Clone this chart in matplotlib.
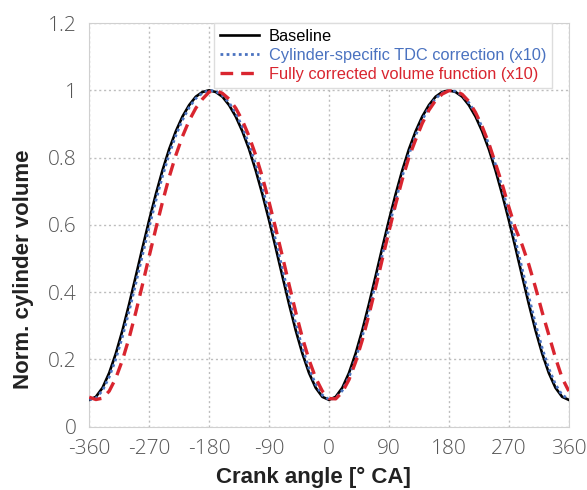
import numpy as np
import matplotlib.pyplot as plt
from matplotlib.ticker import FuncFormatter

plt.rcParams['font.family'] = ['Liberation Sans', 'DejaVu Sans']
plt.rcParams['axes.unicode_minus'] = False

# crank angle grid [deg CA], -360 ... 360 in 10 deg steps
angle = list(range(-360, 361, 10))

baseline = [0.080, 0.089, 0.116, 0.160, 0.218, 0.287, 0.365, 0.448, 0.532, 0.614,
            0.691, 0.762, 0.825, 0.878, 0.922, 0.956, 0.981, 0.995, 1.000,
            0.995, 0.981, 0.956, 0.922, 0.878, 0.825, 0.762, 0.691, 0.614,
            0.532, 0.448, 0.365, 0.287, 0.218, 0.160, 0.116, 0.089, 0.080,
            0.089, 0.116, 0.160, 0.218, 0.287, 0.365, 0.448, 0.532, 0.614,
            0.691, 0.762, 0.825, 0.878, 0.922, 0.956, 0.981, 0.995, 1.000,
            0.995, 0.981, 0.956, 0.922, 0.878, 0.825, 0.762, 0.691, 0.614,
            0.532, 0.448, 0.365, 0.287, 0.218, 0.160, 0.116, 0.089, 0.080]

tdc_corr = [0.081, 0.085, 0.108, 0.148, 0.202, 0.269, 0.345, 0.427, 0.511, 0.594,
            0.672, 0.745, 0.810, 0.866, 0.912, 0.949, 0.976, 0.992, 1.000,
            0.997, 0.985, 0.963, 0.932, 0.890, 0.839, 0.779, 0.710, 0.634,
            0.553, 0.469, 0.386, 0.306, 0.234, 0.173, 0.126, 0.094, 0.081,
            0.085, 0.108, 0.148, 0.202, 0.269, 0.345, 0.427, 0.511, 0.594,
            0.672, 0.745, 0.810, 0.866, 0.912, 0.949, 0.976, 0.992, 1.000,
            0.997, 0.985, 0.963, 0.932, 0.890, 0.839, 0.779, 0.710, 0.634,
            0.553, 0.469, 0.386, 0.306, 0.234, 0.173, 0.126, 0.094, 0.083]

full_corr = [0.088, 0.081, 0.085, 0.106, 0.145, 0.199, 0.265, 0.341, 0.423, 0.507,
             0.589, 0.668, 0.742, 0.807, 0.863, 0.910, 0.947, 0.974, 0.995,
             1.000, 0.991, 0.974, 0.947, 0.910, 0.863, 0.807, 0.742, 0.668,
             0.589, 0.507, 0.423, 0.341, 0.265, 0.199, 0.145, 0.106, 0.084,
             0.083, 0.103, 0.140, 0.193, 0.258, 0.333, 0.414, 0.498, 0.581,
             0.661, 0.735, 0.801, 0.853, 0.902, 0.941, 0.970, 0.989, 0.999,
             0.998, 0.988, 0.967, 0.934, 0.892, 0.842, 0.782, 0.721, 0.653,
             0.589, 0.540, 0.482, 0.414, 0.341, 0.273, 0.205, 0.145, 0.106]

labels = ['Baseline', 'Cylinder-specific TDC correction (x10)', 'Fully corrected volume function (x10)']
colors = ['black', '#4a72c0', '#d9252f']

fig = plt.figure(figsize=(5.87, 4.9), dpi=100)
ax = fig.add_axes([0.152, 0.129, 0.817, 0.824])

ax.plot(angle, baseline, color=colors[0], lw=1.9, label=labels[0], zorder=3)
ax.plot(angle, tdc_corr, color=colors[1], lw=2.0, ls=(0, (1, 1.2)), label=labels[1], zorder=4)
ax.plot(angle, full_corr, color=colors[2], lw=2.4, ls=(0, (3.8, 2.4)), label=labels[2], zorder=5)

ax.set_xlim(-360, 360)
ax.set_ylim(0, 1.2)
ax.set_xticks(range(-360, 361, 90))
ax.set_yticks(np.arange(0, 1.21, 0.2))
ax.yaxis.set_major_formatter(FuncFormatter(lambda v, p: f'{v:g}'))
ax.tick_params(length=0, labelsize=15, labelcolor='#555555', pad=9)
for t in ax.get_xticklabels() + ax.get_yticklabels():
    t.set_fontfamily(['Open Sans', 'DejaVu Sans'])
    t.set_fontweight('light')
ax.grid(True, color='#bdbdbd', ls=(0, (1.5, 2)), lw=1.0)
for s in ax.spines.values():
    s.set_color('#d0d0d0')

ax.set_xlabel('Crank angle [° CA]', fontsize=16, fontweight='bold', color='#222222')
ax.set_ylabel('Norm. cylinder volume', fontsize=16, fontweight='bold', color='#222222')
ax.xaxis.set_label_coords(0.468, -0.10)
ax.yaxis.set_label_coords(-0.115, 0.39)

leg = ax.legend(loc='upper left', bbox_to_anchor=(0.26, 1.0), fontsize=11.8, frameon=True,
                fancybox=False, borderaxespad=0, handlelength=2.4, labelspacing=0.25,
                borderpad=0.35, handletextpad=0.6)
leg.get_frame().set_edgecolor('#dddddd')
leg.get_frame().set_alpha(1)
for t, c in zip(leg.get_texts(), colors):
    t.set_color(c)

plt.savefig('out.png', dpi=100)
